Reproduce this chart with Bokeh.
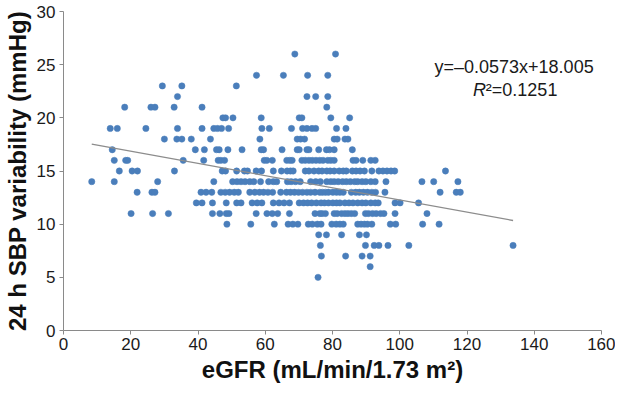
from bokeh.plotting import figure
from bokeh.models import Range1d, FixedTicker, Label, ColumnDataSource
from bokeh.embed import file_html
from bokeh.resources import INLINE

# eGFR values (mL/min/1.73 m2) for each 24 h SBP variability level (mmHg)
egfr_sbpv_26 = [68.8, 80.9]
egfr_sbpv_24 = [57.4, 65.4, 72.6, 78.6]
egfr_sbpv_23 = [29.4, 35.2, 51.4]
egfr_sbpv_22 = [33.9, 72.4, 75.0, 78.6]
egfr_sbpv_21 = [18.2, 26.0, 27.2, 32.9, 41.2, 78.3]
egfr_sbpv_20 = [47.4, 48.2, 50.4, 58.8, 70.1, 70.9, 79.5, 85.1]
egfr_sbpv_19 = [13.9, 16.0, 24.5, 33.9, 41.2, 44.7, 45.8, 47.0, 49.1, 59.0, 61.2,
                67.8, 71.1, 72.4, 73.9, 75.0, 81.2, 84.0]
egfr_sbpv_18 = [30.0, 33.7, 35.2, 38.0, 43.7, 58.4, 69.5, 70.5, 71.7, 80.5, 81.4,
                83.7, 84.6]
egfr_sbpv_17 = [14.5, 39.2, 41.9, 45.5, 46.3, 48.9, 53.1, 58.8, 59.5, 65.0, 69.5,
                70.1, 72.4, 73.0, 75.9, 78.2, 79.1, 80.5, 85.9]
egfr_sbpv_16 = [15.1, 18.5, 19.1, 35.6, 41.7, 46.0, 46.8, 47.9, 59.7, 60.5, 62.1,
                66.4, 67.3, 68.0, 70.9, 71.9, 73.0, 74.0, 75.1, 76.2, 77.2, 78.6,
                79.5, 80.5, 86.1, 87.0, 89.0, 91.4, 92.7]
egfr_sbpv_15 = [16.6, 20.4, 22.0, 33.0, 47.2, 48.2, 51.5, 53.8, 54.7, 57.3, 58.9,
                62.4, 64.8, 66.5, 67.5, 68.3, 71.9, 73.0, 74.5, 75.9, 76.9, 78.3,
                79.3, 80.5, 82.0, 83.2, 84.1, 85.9, 87.0, 88.2, 89.5, 91.7, 93.8,
                95.0, 96.2, 97.4, 98.5, 113.6]
egfr_sbpv_14 = [8.4, 15.1, 28.0, 44.7, 50.3, 51.6, 52.8, 54.0, 55.4, 56.6, 58.6,
                61.0, 62.4, 63.4, 66.6, 67.7, 69.0, 70.4, 73.5, 75.0, 76.4, 78.3,
                79.5, 80.5, 81.7, 83.0, 84.1, 85.3, 86.6, 87.5, 88.8, 89.9, 91.4,
                92.7, 95.9, 106.6, 110.1, 117.3]
egfr_sbpv_13 = [21.9, 26.3, 27.2, 40.9, 42.4, 44.1, 46.8, 48.1, 49.4, 50.8, 52.0,
                55.4, 56.9, 58.3, 59.5, 60.8, 62.2, 64.6, 66.3, 67.5, 68.7, 69.9,
                71.1, 72.4, 73.5, 74.8, 76.2, 77.0, 77.9, 78.8, 80.1, 81.2, 82.2,
                83.2, 85.6, 86.9, 88.0, 89.2, 90.4, 91.7, 92.8, 95.6, 112.0, 116.8,
                118.0]
egfr_sbpv_12 = [39.5, 41.2, 44.3, 48.4, 51.5, 52.8, 56.1, 57.6, 59.0, 62.4, 64.1,
                65.6, 67.2, 70.1, 71.4, 72.6, 73.8, 75.2, 76.6, 77.6, 78.8, 80.1,
                81.2, 82.2, 83.7, 84.9, 86.1, 87.5, 88.8, 89.9, 91.4, 92.7, 93.6,
                98.6, 100.1, 105.6]
egfr_sbpv_11 = [20.1, 26.5, 31.2, 44.3, 46.5, 48.4, 49.2, 57.3, 60.5, 62.1, 63.7,
                67.2, 74.8, 76.2, 76.9, 77.9, 80.5, 81.4, 82.7, 83.7, 84.6, 85.6,
                86.6, 89.8, 90.7, 91.9, 93.0, 94.3, 95.3, 98.6, 108.1]
egfr_sbpv_10 = [48.6, 55.7, 62.7, 66.8, 68.2, 69.7, 72.8, 74.0, 75.5, 76.6, 79.8,
                81.1, 82.2, 83.2, 87.5, 88.5, 89.5, 90.4, 91.7, 97.2, 98.8, 106.8,
                111.7]
egfr_sbpv_9 = [75.9, 78.2, 82.7, 88.0, 90.1]
egfr_sbpv_8 = [76.4, 89.8, 92.4, 93.8, 96.5, 102.7, 133.7]
egfr_sbpv_7 = [76.7, 83.9, 88.8, 91.2]
egfr_sbpv_6 = [91.2]
egfr_sbpv_5 = [75.7]

sbpv_levels = [26, 24, 23, 22, 21, 20, 19, 18, 17, 16, 15, 14, 13, 12, 11, 10, 9, 8, 7, 6, 5]
egfr_by_level = [egfr_sbpv_26, egfr_sbpv_24, egfr_sbpv_23, egfr_sbpv_22, egfr_sbpv_21,
                 egfr_sbpv_20, egfr_sbpv_19, egfr_sbpv_18, egfr_sbpv_17, egfr_sbpv_16,
                 egfr_sbpv_15, egfr_sbpv_14, egfr_sbpv_13, egfr_sbpv_12, egfr_sbpv_11,
                 egfr_sbpv_10, egfr_sbpv_9, egfr_sbpv_8, egfr_sbpv_7, egfr_sbpv_6,
                 egfr_sbpv_5]

# regression line given on the chart
slope = -0.0573
intercept = 18.005
equation_text = "y=\u20130.0573x+18.005"
r2_value_text = "\u00b2=0.1251"

x_ticks = [0, 20, 40, 60, 80, 100, 120, 140, 160]
y_ticks = [0, 5, 10, 15, 20, 25, 30]

xs, ys = [], []
for lvl, vals in zip(sbpv_levels, egfr_by_level):
    xs.extend(vals)
    ys.extend([lvl] * len(vals))

src = ColumnDataSource(data=dict(x=xs, y=ys))

FONT = "Liberation Sans"
AXIS_COLOR = "#8a8a8a"

p = figure(width=615, height=385, output_backend="svg", toolbar_location=None,
           x_range=Range1d(0, 160), y_range=Range1d(0, 30),
           min_border_left=30, min_border_right=14, min_border_top=11,
           min_border_bottom=30)
p.xgrid.visible = False
p.ygrid.visible = False
p.outline_line_color = None
p.background_fill_color = "white"
p.border_fill_color = "white"

p.xaxis.ticker = FixedTicker(ticks=x_ticks)
p.yaxis.ticker = FixedTicker(ticks=y_ticks)
for ax in (p.xaxis, p.yaxis):
    ax.axis_line_color = AXIS_COLOR
    ax.major_tick_line_color = AXIS_COLOR
    ax.minor_tick_line_color = None
    ax.major_tick_in = 0
    ax.major_tick_out = 4
    ax.major_label_text_font = FONT
    ax.major_label_text_font_size = "17px"
    ax.major_label_text_color = "#1a1a1a"
    ax.axis_label_text_font = FONT
    ax.axis_label_text_font_size = "24px"
    ax.axis_label_text_font_style = "bold"
    ax.axis_label_text_color = "#111111"

p.xaxis.axis_label = "eGFR (mL/min/1.73 m\u00b2)"
p.yaxis.axis_label = "24 h SBP variability (mmHg)"
p.xaxis.major_label_standoff = 3
p.xaxis.axis_label_standoff = 3
p.yaxis.major_label_standoff = 4
p.yaxis.axis_label_standoff = 3

p.scatter("x", "y", source=src, size=6.3, fill_color="#4a7ebb", line_color="#4a7ebb",
          line_width=0.5)

x_line = [min(xs), max(xs)]
y_line = [slope * v + intercept for v in x_line]
p.line(x_line, y_line, line_color="#8c8c8c", line_width=1.3)

p.add_layout(Label(x=134.0, y=24.8, text=equation_text, text_align="center",
                   text_baseline="middle", text_font=FONT, text_font_size="18px",
                   text_color="#1a1a1a"))
p.add_layout(Label(x=121.8, y=22.6, text="R", text_align="left",
                   text_baseline="middle", text_font=FONT, text_font_size="18px",
                   text_font_style="italic", text_color="#1a1a1a"))
p.add_layout(Label(x=125.6, y=22.6, text=r2_value_text, text_align="left",
                   text_baseline="middle", text_font=FONT, text_font_size="18px",
                   text_color="#1a1a1a"))

open("out.html", "w").write(file_html(p, INLINE))
